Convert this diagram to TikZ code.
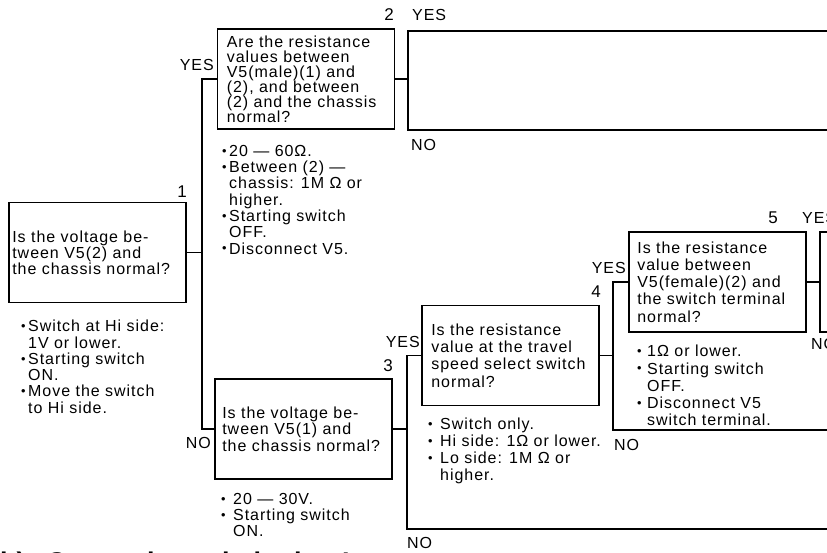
\documentclass[tikz,border=0pt]{standalone}
\usepackage{fontspec}
\setmainfont{Liberation Sans}[LetterSpace=6]
\newfontfamily\hdfont{Liberation Sans}
\newcommand\bl[1]{\makebox[#1][l]{\raisebox{0.15ex}{\scalebox{0.8}{•}}}}
\begin{document}
\begin{tikzpicture}[x=1pt,y=-1pt,
  qbox/.style={draw, line width=1.7pt, minimum width=177pt, minimum height=100pt, inner sep=0pt},
  qtxt/.style={align=left, inner sep=0pt, anchor=west},
  note/.style={align=left, inner sep=0pt, anchor=north west},
  lbl/.style={inner sep=0pt, font=\fontsize{16}{17}\selectfont},
  wire/.style={line width=1.7pt}]
\useasboundingbox (0,0) rectangle (827,553);
\clip (0,0) rectangle (827,553);

% boxes
\node[qbox] (b1) at (97.5,252.5) {};
\node[qbox] (b2) at (306,79) {};
\node[qbox] (b3) at (303.5,429) {};
\node[qbox] (b4) at (510.5,355.5) {};
\node[qbox] (b5) at (717.5,282) {};

% box texts
\node[qtxt, font=\fontsize{16}{16}\selectfont] (t1) at ([xshift=4pt]b1.west) {Is the voltage be-\\tween V5(2) and\\the chassis normal?};
\node[qtxt, font=\fontsize{16}{15}\selectfont] (t2) at ([xshift=10pt]b2.west) {Are the resistance\\values between\\V5(male)(1) and\\(2), and between\\(2) and the chassis\\normal?};
\node[qtxt, font=\fontsize{16}{16.7}\selectfont] (t3) at ([xshift=8pt]b3.west) {Is the voltage be-\\tween V5(1) and\\the chassis normal?};
\node[qtxt, font=\fontsize{16}{17.3}\selectfont] (t4) at ([xshift=10pt]b4.west) {Is the resistance\\value at the travel\\speed select switch\\normal?};
\node[qtxt, font=\fontsize{16}{17.2}\selectfont] (t5) at ([xshift=9pt]b5.west) {Is the resistance\\value between\\V5(female)(2) and\\the switch terminal\\normal?};

% notes
\node[note, font=\fontsize{16}{16.3}\selectfont] (m1) at (21,320) {\bl{7pt}Switch at Hi side:\\\hspace*{7pt}1V or lower.\\\bl{7pt}Starting switch\\\hspace*{7pt}ON.\\\bl{7pt}Move the switch\\\hspace*{7pt}to Hi side.};
\node[note, font=\fontsize{16}{16.3}\selectfont] (m2) at (222,145) {\bl{7pt}20 — 60Ω.\\\bl{7pt}Between (2) —\\\hspace*{7pt}chassis: 1M Ω or\\\hspace*{7pt}higher.\\\bl{7pt}Starting switch\\\hspace*{7pt}OFF.\\\bl{7pt}Disconnect V5.};
\node[note, font=\fontsize{16}{16}\selectfont] (m3) at (221,493) {\bl{12pt}20 — 30V.\\\bl{12pt}Starting switch\\\hspace*{12pt}ON.};
\node[note, font=\fontsize{16}{17}\selectfont] (m4) at (428,418) {\bl{12pt}Switch only.\\\bl{12pt}Hi side: 1Ω or lower.\\\bl{12pt}Lo side: 1M Ω or\\\hspace*{12pt}higher.};
\node[note, font=\fontsize{16}{17.3}\selectfont] (m5) at (637,345) {\bl{10pt}1Ω or lower.\\\bl{10pt}Starting switch\\\hspace*{10pt}OFF.\\\bl{10pt}Disconnect V5\\\hspace*{10pt}switch terminal.};

% junctions
\coordinate (j1) at (202,252.5);
\coordinate (j2) at (408,79);
\coordinate (j3) at (407,429);
\coordinate (j4) at (613,355.5);
\coordinate (j5) at (820,282);
\coordinate (y2) at (830,31);
\coordinate (n2) at (830,130);
\coordinate (n3) at (830,529);
\coordinate (n4) at (830,430);
\coordinate (y5) at (830,232);
\coordinate (n5) at (830,332);

% connectors
\draw[wire] (b1.east) -- (j1);
\draw[wire] (b2.west) -| (j1) |- (b3.west);
\draw[wire] (b2.east) -- (j2);
\draw[wire] (y2) -| (j2) |- (n2);
\draw[wire] (b3.east) -- (j3);
\draw[wire] (b4.west) -| (j3) |- (n3);
\draw[wire] (b4.east) -- (j4);
\draw[wire] (b5.west) -| (j4) |- (n4);
\draw[wire] (b5.east) -- (j5);
\draw[wire] (y5) -| (j5) |- (n5);

% step numbers
\node[lbl, anchor=east, font=\fontsize{17}{18}\selectfont] (s1) at (187,192) {1};
\node[lbl, anchor=east, font=\fontsize{17}{18}\selectfont] (s2) at (394,15) {2};
\node[lbl, anchor=east, font=\fontsize{17}{18}\selectfont] (s3) at (393,366) {3};
\node[lbl, anchor=east, font=\fontsize{17}{18}\selectfont] (s4) at (601,292) {4};
\node[lbl, anchor=east, font=\fontsize{17}{18}\selectfont] (s5) at (778,218) {5};

% YES / NO labels
\node[lbl, anchor=east] (ya) at (214,65) {YES};
\node[lbl, anchor=east] (na) at (211,443) {NO};
\node[lbl, anchor=west] (yb) at (412,15) {YES};
\node[lbl, anchor=west] (nb) at (411,145) {NO};
\node[lbl, anchor=east] (yc) at (420,342) {YES};
\node[lbl, anchor=west] (nc) at (407,543) {NO};
\node[lbl, anchor=east] (yd) at (626,268) {YES};
\node[lbl, anchor=west] (nd) at (614,445) {NO};
\node[lbl, anchor=west] (ye) at (802,218) {YES};
\node[lbl, anchor=west] (ne) at (811,344) {NO};

% heading (cut at the bottom edge)
\node[anchor=base west, inner sep=0pt, font=\hdfont\bfseries\fontsize{27}{30}\selectfont] (hd) at (0,571.5) {b)\hspace{21pt}Cannot be switched to Lo};
\end{tikzpicture}
\end{document}
